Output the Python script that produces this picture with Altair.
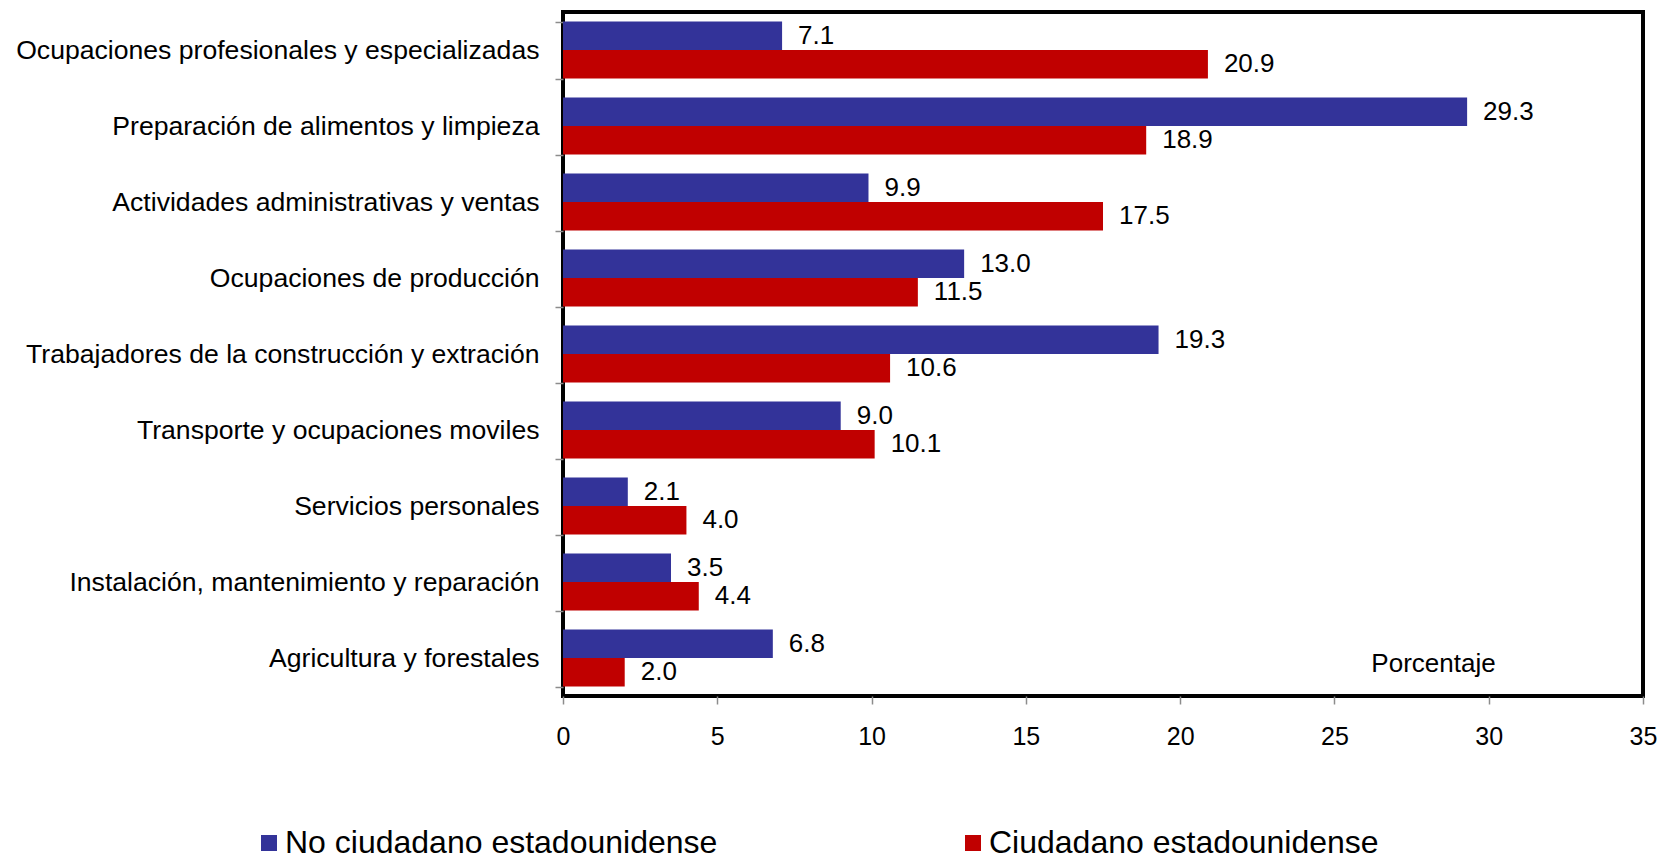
import altair as alt
import pandas as pd

categories = [
    "Ocupaciones profesionales y especializadas",
    "Preparación de alimentos y limpieza",
    "Actividades administrativas y ventas",
    "Ocupaciones de producción",
    "Trabajadores de la construcción y extración",
    "Transporte y ocupaciones moviles",
    "Servicios personales",
    "Instalación, mantenimiento y reparación\u00a0",
    "Agricultura y forestales",
]
no_ciudadano = [7.1, 29.3, 9.9, 13.0, 19.3, 9.0, 2.1, 3.5, 6.8]
ciudadano = [20.9, 18.9, 17.5, 11.5, 10.6, 10.1, 4.0, 4.4, 2.0]
series = ["No ciudadano estadounidense", "Ciudadano estadounidense"]
colors = ["#333399", "#C00000"]
x_ticks = [0, 5, 10, 15, 20, 25, 30, 35]
x_title = "Porcentaje"

rows = []
for c, a, b in zip(categories, no_ciudadano, ciudadano):
    rows.append({"cat": c, "serie": series[0], "valor": a})
    rows.append({"cat": c, "serie": series[1], "valor": b})
df = pd.DataFrame(rows)

FONT = "Liberation Sans"

y_enc = alt.Y(
    "cat:N",
    sort=categories,
    title=None,
    scale=alt.Scale(paddingInner=0.25, paddingOuter=0.125),
    axis=alt.Axis(
        tickBand="extent",
        labelFontSize=26.6,
        labelFont=FONT,
        labelColor="black",
        labelPadding=16,
        labelLimit=700,
        tickSize=8,
        tickColor="#8c8c8c",
        tickWidth=1.5,
        domain=False,
        grid=False,
    ),
)
yoff = alt.YOffset("serie:N", sort=series)
x_enc = alt.X(
    "valor:Q",
    scale=alt.Scale(domain=[0, 35], nice=False),
    axis=alt.Axis(
        values=x_ticks,
        title=x_title,
        titleX=870,
        titleY=-33,
        titleAlign="center",
        titleBaseline="middle",
        titleFontSize=26,
        titleFont=FONT,
        titleFontWeight="normal",
        titleColor="black",
        labelFontSize=25,
        labelFont=FONT,
        labelColor="black",
        labelPadding=20,
        labelFlush=False,
        tickSize=8,
        tickColor="#8c8c8c",
        tickWidth=1.5,
        domain=False,
        grid=False,
    ),
)
color = alt.Color(
    "serie:N",
    sort=series,
    scale=alt.Scale(domain=series, range=colors),
    legend=alt.Legend(
        title=None,
        orient="none",
        legendX=-310,
        legendY=815,
        direction="horizontal",
        symbolType="square",
        symbolSize=256,
        symbolStrokeWidth=0,
        labelFontSize=32,
        labelFont=FONT,
        labelColor="black",
        labelOffset=0,
        labelLimit=800,
        columnPadding=239,
        padding=0,
    ),
)

bars = alt.Chart(df).mark_bar().encode(y=y_enc, yOffset=yoff, x=x_enc, color=color)
labels = (
    alt.Chart(df)
    .mark_text(align="left", baseline="middle", dx=16, fontSize=26, font=FONT, color="black")
    .encode(
        y=alt.Y("cat:N", sort=categories),
        yOffset=yoff,
        x="valor:Q",
        text=alt.Text("valor:Q", format=".1f"),
    )
)

chart = (
    alt.layer(bars, labels)
    .properties(
        width=1080,
        height=684,
        padding={"left": 555, "top": 4, "right": 14, "bottom": 165},
        autosize=alt.AutoSizeParams(type="none"),
        background="white",
    )
    .configure_view(stroke="black", strokeWidth=4)
)

chart.save("out.html", embed_options={"renderer": "svg", "actions": False})
